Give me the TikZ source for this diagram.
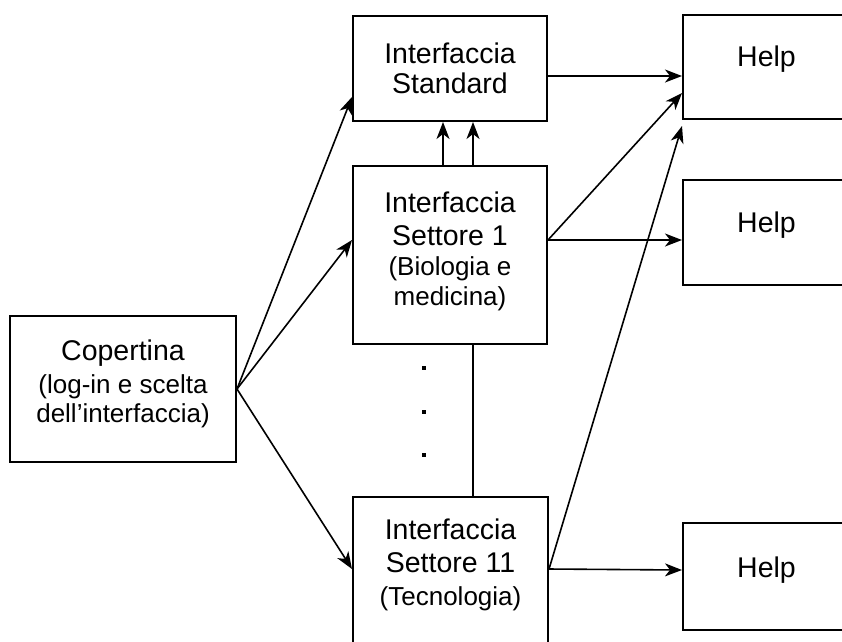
\documentclass[tikz,border=0pt]{standalone}
\usepackage{fontspec}
\setmainfont{Liberation Sans}
\usetikzlibrary{arrows.meta}
\newcommand{\mainsize}{\fontsize{28.5}{33}\selectfont}
\newcommand{\subsize}{\fontsize{26}{30}\selectfont}
\tikzset{
  box/.style={draw, line width=2pt, align=center, font=\mainsize,
    inner xsep=0pt, inner ysep=0pt, anchor=base},
  link/.style={line width=1.6pt, -{Stealth[length=17pt,width=13pt,inset=5pt]}}
}
\begin{document}
\begin{tikzpicture}[x=1pt,y=-1pt]
      \useasboundingbox (0,0) rectangle (842,641);
      \clip (0,0) rectangle (842,641);
      % boxes, placed at the baseline of their last line
      \node[box, minimum width=226pt, text height=106pt, text depth=40pt] (cop) at (123,422)
        {Copertina\\{\subsize (log-in e scelta}\\[-4pt]{\subsize dell'interfaccia)}};
      \node[box, minimum width=194pt, text height=77pt, text depth=28pt] (std) at (450,93)
        {Interfaccia\\[-3pt]Standard};
      \node[box, minimum width=194pt, text height=139pt, text depth=39pt] (set1) at (450,305)
        {Interfaccia\\Settore 1\\[-3pt]{\subsize (Biologia e}\\[-3pt]{\subsize medicina)}};
      \node[box, minimum width=195pt, text height=108pt, text depth=60pt] (set11) at (450.5,605)
        {Interfaccia\\Settore 11\\{\subsize (Tecnologia)}};
      \node[box, minimum width=167pt, text height=51pt, text depth=53pt] (help1) at (766.5,66) {Help};
      \node[box, minimum width=167pt, text height=52pt, text depth=53pt] (help2) at (766.5,232) {Help};
      \node[box, minimum width=167pt, text height=54pt, text depth=53pt] (help3) at (766.5,577) {Help};
      % dots between the sectors
      \foreach \y in {366,410,453}
        \fill (422,\y) rectangle ++(4,4);
      \begin{scope}[link]
        \draw (cop.east) to ([yshift=-28.5pt]std.west);
        \draw (cop.east) to ([yshift=15pt]set1.west);
        \draw (cop.east) to ([yshift=-73pt]set11.north west);
        \draw ([xshift=-7pt]set1.north) to ([xshift=-7pt]std.south);
        \draw ([xshift=23pt]set1.north) to ([xshift=23pt]std.south);
        \draw ([yshift=-7.5pt]std.east) to ([yshift=-9pt]help1.west);
        \draw ([yshift=15pt]set1.east) to ([yshift=-26pt]help1.west);
        \draw ([yshift=15pt]set1.east) to ([yshift=-7.5pt]help2.west);
        \draw ([yshift=-73pt]set11.north east) to ([yshift=-6pt]help1.south west);
        \draw ([yshift=-73pt]set11.north east) to ([yshift=6.5pt]help3.west);
      \end{scope}
      \draw[line width=1.6pt] ([xshift=23pt]set1.south) to ([xshift=22.5pt]set11.north);
    \end{tikzpicture}
\end{document}
